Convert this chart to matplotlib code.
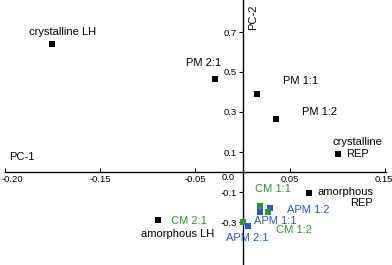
import matplotlib
matplotlib.use("Agg")
import matplotlib.pyplot as plt
import matplotlib.transforms as mtransforms
from matplotlib.ticker import FixedLocator, FixedFormatter

plt.rcParams['font.family'] = ['Liberation Sans', 'DejaVu Sans']

# PCA scores
names = ["crystalline LH", "PM 2:1", "PM 1:1", "PM 1:2", "crystalline\nREP",
         "amorphous\nREP", "amorphous LH", "CM 1:1", "APM 1:1", "APM 1:2",
         "CM 1:2", "CM 2:1", "APM 2:1"]
pc1 = [-0.201, -0.029, 0.015, 0.035, 0.100, 0.070, -0.089,
       0.018, 0.018, 0.029, 0.027, 0.001, 0.006]
pc2 = [0.638, 0.463, 0.390, 0.265, 0.090, -0.103, -0.240,
       -0.170, -0.200, -0.182, -0.200, -0.250, -0.270]
groups = ["k", "k", "k", "k", "k", "k", "k", "cm", "apm", "apm", "cm", "cm", "apm"]

# axis ticks as printed on the original
x_ticks = [-0.25, -0.15, -0.05, 0.05, 0.15]
x_labels = ["-0.20", "-0.15", "-0.05", "0.05", "0.15"]
y_ticks = [0.7, 0.5, 0.3, 0.1, -0.1, -0.25]
y_labels = ["0.7", "0.5", "0.3", "0.1", "-0.1", "-0.3"]

colors = {"k": "black", "cm": "#2a9a2a", "apm": "#2255ee"}
# label offsets in pixels (dx, dy) and alignment
offsets = {
    "crystalline LH": (11, 12, "center"),
    "PM 2:1": (-11, 16, "center"),
    "PM 1:1": (44, 13, "center"),
    "PM 1:2": (44, 7, "center"),
    "crystalline\nREP": (20, 6, "center"),
    "amorphous\nREP": (8, -5, "left"),
    "amorphous LH": (20, -14, "center"),
    "CM 1:1": (13, 17, "center"),
    "APM 1:1": (16, -9, "center"),
    "APM 1:2": (38, -2, "center"),
    "CM 1:2": (26, -18, "center"),
    "CM 2:1": (-55, 1, "center"),
    "APM 2:1": (-1, -12, "center"),
}

fig = plt.figure(figsize=(3.92, 2.65), dpi=100)
ax = fig.add_axes([5 / 392, 0, 381 / 392, 1])
ax.set_xlim(-0.25, 0.151)
ax.set_ylim(-0.465, 0.86)

for name, x, y, g in zip(names, pc1, pc2, groups):
    c = colors[g]
    ax.scatter(x, y, marker="s", s=20, color=c, zorder=3, linewidths=0)
    dx, dy, ha = offsets[name]
    ax.annotate(name, (x, y), xytext=(dx, dy), textcoords="offset pixels",
                ha=ha, va="center", fontsize=8, color=c,
                multialignment="right" if ha == "left" else "center")

ax.spines["left"].set_position(("data", 0))
ax.spines["bottom"].set_position(("data", 0))
ax.spines["top"].set_visible(False)
ax.spines["right"].set_visible(False)
for s in ("left", "bottom"):
    ax.spines[s].set_linewidth(1.0)

ax.xaxis.set_major_locator(FixedLocator(x_ticks))
ax.xaxis.set_major_formatter(FixedFormatter(x_labels))
ax.yaxis.set_major_locator(FixedLocator(y_ticks))
ax.yaxis.set_major_formatter(FixedFormatter(y_labels))
ax.tick_params(axis="x", direction="in", length=3, labelsize=6.8, pad=2)
ax.tick_params(axis="y", direction="out", length=3, labelsize=6.8, pad=1)

# nudge the end labels so they stay inside the canvas
xt = ax.get_xticklabels()
xt[0].set_transform(xt[0].get_transform() +
                    mtransforms.ScaledTranslation(7 / 100, 0, fig.dpi_scale_trans))
xt[-1].set_transform(xt[-1].get_transform() +
                     mtransforms.ScaledTranslation(-1 / 100, 0, fig.dpi_scale_trans))

ax.text(-0.0153, -0.03, "0.0", fontsize=6.8, ha="center", va="center")
ax.text(-0.232, 0.075, "PC-1", fontsize=8, ha="center", va="center")
ax.text(0.011, 0.775, "PC-2", fontsize=8, ha="center", va="center", rotation=90)

fig.savefig("out.png", dpi=100)
